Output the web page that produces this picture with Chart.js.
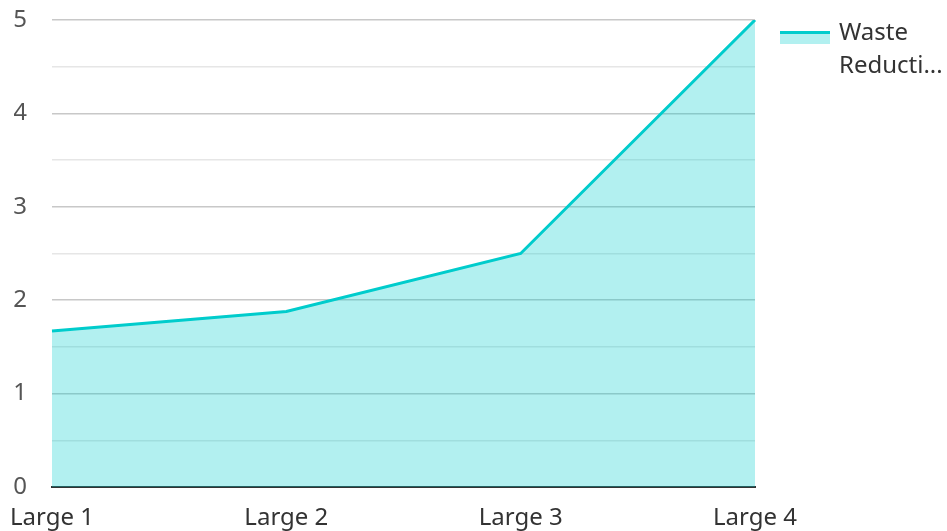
<!DOCTYPE html>
<html>
<head>
<meta charset="utf-8">
<script src="https://cdn.jsdelivr.net/npm/chart.js@4"></script>
<style>
  html, body { margin: 0; padding: 0; background: #fff; }
  #wrap { width: 947px; height: 531px; }
</style>
</head>
<body>
<div id="wrap"><canvas id="myChart"></canvas></div>
<script>
const categories = ['Large 1', 'Large 2', 'Large 3', 'Large 4'];
const wasteValues = [1.67, 1.88, 2.5, 5];
const seriesName = 'Waste Reduction';
const legendLines = ['Waste', 'Reducti...'];

const lineColor = 'rgb(0, 204, 204)';
const fillColor = 'rgba(0, 204, 204, 0.3)';

// legend drawn by hand on the right, the box of the default one cannot look like this
const sideLegend = {
    id: 'sideLegend',
    afterDraw(chart) {
        const ctx = chart.ctx;
        const x = chart.chartArea.right + 25;
        const y = chart.chartArea.top + 11;
        ctx.save();
        ctx.fillStyle = fillColor;
        ctx.fillRect(x, y, 50, 13);
        ctx.strokeStyle = lineColor;
        ctx.lineWidth = 3;
        ctx.beginPath();
        ctx.moveTo(x, y + 1.5);
        ctx.lineTo(x + 50, y + 1.5);
        ctx.stroke();
        ctx.fillStyle = '#333';
        ctx.font = '24px "Noto Sans"';
        ctx.textBaseline = 'middle';
        legendLines.forEach((t, i) => {
            ctx.fillText(t, x + 59, y + 2 + i * 33);
        });
        ctx.restore();
    }
};

const ctx = document.getElementById('myChart').getContext('2d');
new Chart(ctx, {
    type: 'line',
    data: {
        labels: categories,
        datasets: [{
            label: seriesName,
            data: wasteValues,
            borderColor: lineColor,
            backgroundColor: fillColor,
            borderWidth: 3,
            fill: 'origin',
            tension: 0,
            pointRadius: 0
        }]
    },
    options: {
        responsive: true,
        maintainAspectRatio: false,
        animation: false,
        layout: { padding: { left: 14, right: 192, top: 20, bottom: 0 } },
        plugins: {
            legend: { display: false },
            tooltip: { enabled: false }
        },
        scales: {
            x: {
                offset: false,
                grid: { display: false, drawTicks: false },
                border: { display: true, color: '#333', width: 2 },
                ticks: {
                    padding: 17,
                    color: '#333',
                    maxRotation: 0,
                    autoSkip: false,
                    font: { family: 'Noto Sans', size: 24 }
                },
                afterFit: s => {
                    s.height = 44;
                    s.paddingLeft = 0;
                    s.paddingRight = 0;
                }
            },
            y: {
                min: 0,
                max: 5,
                border: { display: false },
                grid: {
                    drawTicks: false,
                    color: c => Number.isInteger(c.tick.value) ? '#c8c8c8' : '#e6e6e6',
                    lineWidth: c => c.tick.value === 0 ? 0 : 1.5
                },
                ticks: {
                    stepSize: 0.5,
                    padding: 25,
                    color: '#555',
                    font: { family: 'Noto Sans', size: 24 },
                    callback: v => Number.isInteger(v) ? v : ''
                },
                afterFit: s => {
                    s.width = 38;
                    s.paddingTop = 0;
                    s.paddingBottom = 0;
                }
            }
        }
    },
    plugins: [sideLegend]
});
</script>
</body>
</html>
